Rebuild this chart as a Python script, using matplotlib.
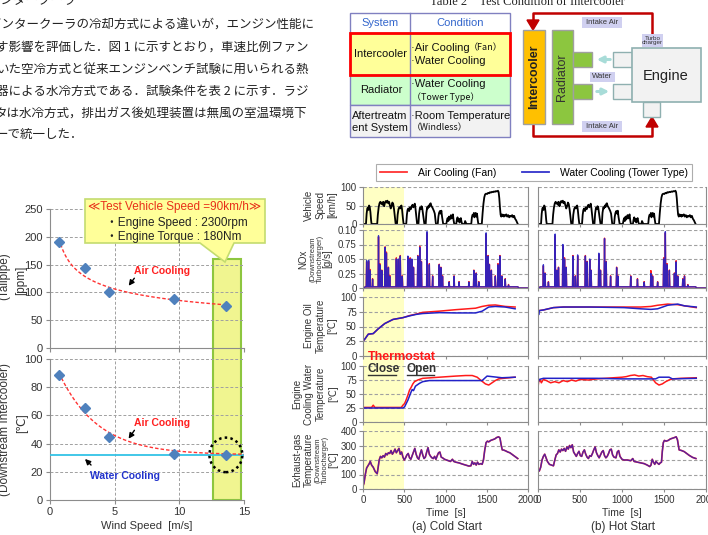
import numpy as np
import matplotlib
matplotlib.use("Agg")
import matplotlib.pyplot as plt
from matplotlib.patches import Rectangle, Polygon, Ellipse, FancyArrowPatch
from matplotlib.lines import Line2D

# ------------------------------------------------------------------ data
# Fig. left: wind speed sweep
wind_speed = [0.7, 2.7, 4.6, 9.6, 13.6]
nox_tailpipe = [190, 144, 100, 89, 76]
intake_temp_air = [89, 65.5, 45, 32.5, 32]
intake_temp_water = 32
wind_ticks = [0, 5, 10, 15]
nox_ppm_ticks = [0, 50, 100, 150, 200, 250]
intake_ticks = [0, 20, 40, 60, 80, 100]
highlight_wind = [12.6, 14.8]
highlight_top = 160

# Fig. right: transient cycle
time_ticks = [0, 500, 1000, 1500, 2000]
speed_ticks = [0, 50, 100]
nox_gs_ticks = [0, 0.025, 0.05, 0.075, 0.10]
nox_gs_labels = ["0", "0.25", "0.05", "0.75", "0.10"]
temp_ticks = [0, 25, 50, 75, 100]
exh_ticks = [0, 100, 200, 300, 400]
thermostat_open = 500

speed_t = [0, 36, 44, 52, 60, 66, 74, 82, 90, 98, 104,
           172, 180, 190, 200, 210, 220, 230, 238, 246, 256, 266, 276, 286, 296, 306, 316, 326, 336, 346, 356, 366, 376, 386, 396,
           412, 420, 430, 440, 450, 458, 466, 474, 484, 492,
           524, 532, 540, 550, 560, 570, 580, 590, 600, 610, 620, 628, 636, 646, 656,
           672, 680, 690, 700, 708, 716, 726, 736, 744,
           760, 768, 778, 786, 796, 804, 812, 820, 830, 840, 850, 860, 870, 878, 884,
           906, 914, 922, 932, 942, 950, 958, 966, 972,
           1010, 1018, 1026, 1034, 1042, 1050, 1058, 1066, 1074, 1082, 1090, 1098, 1106,
           1130, 1138, 1146, 1154, 1162, 1170, 1178, 1186, 1194, 1202,
           1230, 1238, 1246, 1254,
           1312, 1320, 1328, 1336, 1344, 1350, 1358, 1366, 1374, 1382, 1390, 1398, 1440,
           1450, 1460, 1470, 1480, 1492, 1504, 1516, 1528, 1540, 1552, 1564, 1576, 1588, 1600, 1612, 1624, 1636, 1644,
           1652, 1660, 1668, 1676, 1684, 1692, 1700, 1708, 1716, 1724, 1736, 1748, 1760, 1772, 1784, 1796, 1808, 1820,
           1832, 1844, 1856, 1866, 1876]
speed_v = [0, 0, 28, 42, 45, 38, 50, 46, 32, 10, 0,
           0, 25, 45, 56, 60, 55, 58, 52, 60, 48, 57, 62, 58, 63, 56, 60, 50, 42, 48, 58, 54, 40, 20, 0,
           0, 25, 40, 45, 42, 48, 50, 38, 15, 0,
           0, 25, 38, 42, 35, 45, 40, 48, 52, 45, 50, 55, 42, 20, 0,
           0, 28, 44, 40, 48, 46, 30, 12, 0,
           0, 30, 45, 42, 50, 46, 54, 56, 48, 45, 40, 35, 28, 12, 0,
           0, 20, 30, 35, 28, 36, 20, 8, 0,
           0, 10, 16, 8, 20, 12, 18, 24, 15, 20, 26, 10, 0,
           0, 12, 18, 8, 14, 4, 12, 16, 6, 0,
           0, 8, 4, 0,
           0, 18, 25, 22, 30, 18, 24, 30, 20, 28, 12, 0, 0,
           30, 55, 72, 80, 82, 81, 84, 83, 86, 85, 87, 86, 88, 87, 89, 88, 90, 86,
           70, 45, 25, 20, 26, 22, 25, 20, 24, 22, 26, 20, 24, 18, 22, 20, 24, 18,
           22, 14, 10, 5, 0]

nox_cold_t = [44, 68, 84, 116, 188, 204, 228, 268, 284, 308, 324, 404, 428, 452, 476, 544, 572, 592, 612,
              664, 688, 708, 776, 804, 844, 924, 944, 964, 1044, 1104, 1164, 1284, 1344, 1372, 1404,
              1492, 1516, 1532, 1556, 1604, 1636, 1660, 1684, 1724, 1764]
nox_cold_water = [0.047, 0.048, 0.030, 0.015, 0.090, 0.040, 0.030, 0.070, 0.060, 0.035, 0.020, 0.050, 0.050,
                  0.055, 0.020, 0.055, 0.050, 0.050, 0.035, 0.055, 0.070, 0.045, 0.097, 0.040, 0.020, 0.040,
                  0.035, 0.020, 0.010, 0.020, 0.010, 0.010, 0.030, 0.025, 0.010, 0.095, 0.055, 0.040, 0.030,
                  0.020, 0.040, 0.055, 0.020, 0.015, 0.005]
nox_cold_air = [0.045, 0.046, 0.032, 0.016, 0.088, 0.042, 0.031, 0.071, 0.062, 0.036, 0.022, 0.052, 0.048,
                0.056, 0.021, 0.054, 0.052, 0.049, 0.036, 0.056, 0.072, 0.046, 0.095, 0.042, 0.021, 0.041,
                0.036, 0.021, 0.011, 0.021, 0.011, 0.011, 0.031, 0.026, 0.011, 0.093, 0.056, 0.041, 0.031,
                0.021, 0.042, 0.056, 0.021, 0.016, 0.006]
nox_hot_t = [64, 84, 124, 204, 224, 244, 296, 316, 336, 416, 444, 472, 564, 584, 616, 632, 724, 744, 792, 812,
             864, 936, 952, 1104, 1184, 1264, 1344, 1364, 1424, 1496, 1516, 1536, 1564, 1624, 1644, 1664,
             1724, 1744, 1784]
nox_hot_water = [0.040, 0.025, 0.010, 0.093, 0.030, 0.035, 0.075, 0.050, 0.035, 0.055, 0.020, 0.057, 0.055,
                 0.045, 0.050, 0.030, 0.060, 0.030, 0.085, 0.045, 0.020, 0.035, 0.020, 0.020, 0.015, 0.010,
                 0.025, 0.020, 0.010, 0.050, 0.097, 0.040, 0.030, 0.025, 0.045, 0.020, 0.015, 0.020, 0.005]
nox_hot_air = [0.038, 0.026, 0.011, 0.090, 0.031, 0.036, 0.073, 0.052, 0.036, 0.056, 0.021, 0.055, 0.056,
               0.046, 0.048, 0.031, 0.058, 0.031, 0.086, 0.046, 0.021, 0.036, 0.021, 0.021, 0.016, 0.011,
               0.030, 0.021, 0.011, 0.052, 0.095, 0.042, 0.031, 0.026, 0.047, 0.021, 0.016, 0.021, 0.006]

oil_cold_t = [0, 24, 64, 124, 184, 264, 364, 484, 564, 644, 724, 924, 1124, 1364, 1444, 1524, 1604, 1724, 1844]
oil_cold_water = [25, 29, 37, 38, 46, 55, 62, 65, 68, 70.5, 72, 73.5, 73, 73, 76, 83, 84, 83, 80]
oil_cold_air = [25, 29, 37, 38, 46, 55, 62, 65, 68.5, 71, 74, 76, 78.5, 81, 84, 86, 86.5, 84, 83]
oil_hot_t = [0, 8, 16, 64, 184, 304, 624, 1024, 1224, 1344, 1424, 1544, 1664, 1744, 1884]
oil_hot_water = [75, 70, 77, 78, 82, 83, 83, 82, 80, 79, 80, 86, 88, 85, 83]
oil_hot_air = [77, 76, 77, 78, 82, 83, 83, 83, 83, 84, 86, 88, 87, 85, 82]

cool_cold_water_t = [0, 484, 504, 544, 584, 596, 612, 636, 684, 724, 804, 1444, 1504, 1564, 1684, 1844]
cool_cold_water = [25, 25, 27, 39, 54, 58, 56, 64, 69, 72, 74, 74, 82, 81, 79, 80]
cool_cold_air_t = [0, 104, 124, 144, 464, 484, 504, 524, 544, 564, 584, 604, 624, 664, 724, 924, 1124, 1244,
                   1324, 1384, 1424, 1484, 1524, 1564, 1604, 1644, 1704, 1844]
cool_cold_air = [26, 26, 30, 26, 26, 30, 33, 40, 48, 57, 62, 68, 72, 75, 78, 80, 82, 83, 83, 80, 75, 68, 66,
                 70, 74, 77, 78, 80]
cool_hot_water_t = [0, 16, 64, 300, 700, 1000, 1400, 1440, 1560, 1600, 1884]
cool_hot_water = [70, 76, 78, 78, 78, 77, 77, 80, 80, 77, 78]
cool_hot_air_t = [0, 8, 24, 40, 64, 100, 150, 200, 250, 300, 350, 400, 450, 500, 600, 700, 800, 900, 1000,
                  1050, 1100, 1150, 1200, 1250, 1300, 1350, 1400, 1440, 1480, 1520, 1560, 1600, 1700, 1884]
cool_hot_air = [62, 72, 75, 70, 76, 74, 70, 72, 70, 74, 72, 75, 73, 76, 75, 77, 78, 79, 80, 81, 83, 84, 82,
                83, 81, 80, 70, 66, 68, 72, 75, 77, 78, 79]

exh_cold_t = [0, 12, 28, 44, 60, 76, 88, 104, 124, 148, 172, 184, 196, 212, 228, 244, 260, 276, 292, 308, 324,
              340, 356, 372, 388, 404, 420, 436, 452, 468, 484, 500, 516, 532, 548, 564, 580, 596, 612, 628, 644,
              660, 676, 692, 708, 724, 740, 756, 772, 788, 804, 820, 836, 852, 868, 884, 900, 916, 932, 948, 964,
              988, 1012, 1036, 1060, 1084, 1100, 1124, 1164, 1204, 1244, 1284, 1308, 1324, 1340, 1356, 1372,
              1388, 1404, 1428, 1444, 1460, 1476, 1492, 1508, 1524, 1548, 1572, 1596, 1620, 1644, 1660, 1676,
              1688, 1708, 1732, 1756, 1780, 1804, 1828, 1852, 1876]
exh_cold = [20, 40, 100, 145, 160, 175, 190, 165, 150, 120, 105, 150, 200, 225, 215, 230, 220, 245, 235, 250, 245,
            265, 240, 255, 275, 250, 265, 280, 240, 255, 220, 200, 215, 235, 245, 215, 205, 230, 255, 280, 240,
            215, 205, 240, 270, 235, 210, 220, 255, 285, 240, 225, 215, 210, 225, 205, 230, 250, 255, 220, 215,
            205, 200, 195, 190, 205, 190, 185, 180, 172, 165, 158, 160, 190, 170, 180, 165, 185, 170, 175, 170,
            200, 270, 320, 330, 325, 335, 340, 345, 355, 360, 352, 300, 270, 268, 262, 255, 250, 240, 230, 220,
            210]
exh_hot_t = [0, 16, 32, 48, 64, 80, 96, 112, 136, 160, 184, 200, 216, 232, 248, 264, 280, 296, 312, 328, 344,
             360, 376, 392, 408, 424, 440, 456, 472, 488, 504, 520, 536, 552, 568, 584, 600, 616, 632, 648, 664,
             680, 696, 712, 728, 744, 760, 776, 792, 808, 824, 840, 856, 872, 888, 904, 928, 944, 960, 976, 1000,
             1024, 1064, 1104, 1128, 1144, 1184, 1224, 1264, 1300, 1330, 1345, 1360, 1375, 1390, 1405, 1420,
             1440, 1455, 1470, 1480, 1492, 1505, 1525, 1550, 1575, 1600, 1625, 1645, 1660, 1680, 1710, 1740,
             1770, 1800, 1840, 1880]
exh_hot = [120, 125, 150, 200, 225, 240, 215, 190, 170, 165, 160, 200, 235, 245, 270, 255, 275, 265, 280, 260,
           290, 275, 300, 285, 305, 255, 240, 225, 245, 260, 230, 225, 255, 270, 240, 220, 210, 230, 225, 245,
           270, 290, 250, 230, 215, 235, 255, 265, 230, 215, 225, 245, 270, 275, 235, 220, 215, 255, 265, 225,
           205, 200, 200, 195, 210, 190, 185, 180, 175, 165, 155, 165, 205, 185, 170, 190, 180, 170, 180, 185,
           260, 320, 335, 330, 335, 345, 350, 355, 360, 340, 270, 265, 258, 245, 232, 218, 210]

# ------------------------------------------------------------------ helpers
plt.rcParams['font.family'] = ['Liberation Sans', 'DejaVu Sans', 'Noto Sans CJK JP']
JP = ['Noto Sans CJK JP']
SERIF = ['Liberation Serif', 'DejaVu Serif']
W, H = 708, 535
fig = plt.figure(figsize=(W / 100, H / 100), dpi=100)
fig.patch.set_facecolor('white')

RED = '#ff1a1a'
BLUE = '#2222c8'
GRIDC = '#a0a0a0'
SPC = '#8c8c8c'
TXT = '#333333'


def P(x, y):
    return (x / W, 1 - y / H)


def txt(x, y, s, **kw):
    kw.setdefault('ha', 'center')
    kw.setdefault('va', 'center')
    return fig.text(x / W, 1 - y / H, s, **kw)


def rect(x0, y0, x1, y1, fc='none', ec='none', lw=1.0, z=1):
    p = Rectangle((x0 / W, 1 - y1 / H), (x1 - x0) / W, (y1 - y0) / H, transform=fig.transFigure,
                  facecolor=fc, edgecolor=ec, linewidth=lw, zorder=z)
    fig.add_artist(p)
    return p


def fline(xs, ys, **kw):
    ln = Line2D([x / W for x in xs], [1 - y / H for y in ys], transform=fig.transFigure, **kw)
    fig.add_artist(ln)
    return ln


def arrow(x0, y0, x1, y1, color='black', lw=1.0, ms=8, style='-|>', z=6):
    a = FancyArrowPatch(P(x0, y0), P(x1, y1), transform=fig.transFigure, arrowstyle=style,
                        mutation_scale=ms, color=color, lw=lw, zorder=z)
    fig.add_artist(a)


def add_ax(x0, y0, x1, y1):
    ax = fig.add_axes([x0 / W, 1 - y1 / H, (x1 - x0) / W, (y1 - y0) / H])
    ax.set_facecolor('none')
    return ax


def to_fig(ax, x, y):
    return fig.transFigure.inverted().transform(ax.transData.transform((x, y)))


# ------------------------------------------------------------------ Japanese text
jp_lines = ["インタークーラ",
            "インタークーラの冷却方式による違いが，エンジン性能に",
            "す影響を評価した．図 1 に示すとおり，車速比例ファン",
            "いた空冷方式と従来エンジンベンチ試験に用いられる熱",
            "器による水冷方式である．試験条件を表 2 に示す．ラジ",
            "タは水冷方式，排出ガス後処理装置は無風の室温環境下",
            "ーで統一した．"]
jp_x = [-11, -10, -4, -4, -4, -5, -4]
jp_y = [1, 25, 47, 69, 91, 113, 134]
for s, x, y in zip(jp_lines, jp_x, jp_y):
    txt(x, y, s, ha='left', family=JP, fontsize=9, color='#222222')

# ------------------------------------------------------------------ Table 2
txt(527, 5, "Table 2    Test Condition of Intercooler", va='baseline', family=SERIF, fontsize=9, color='#222')
TB = '#8080c0'
rect(350, 13, 510, 33, fc='white', ec=TB)
rect(350, 33, 510, 75, fc='#ffff99', ec=TB)
rect(350, 75, 510, 105, fc='#ccffcc', ec=TB)
rect(350, 105, 510, 137, fc='#f2f2f2', ec=TB)
fline([410, 410], [13, 137], color=TB, lw=1)
rect(350, 33, 510, 75, fc='none', ec='#ff0000', lw=2, z=2)
TS = 8
txt(380, 23, "System", color='#3366cc', fontsize=TS)
txt(460, 23, "Condition", color='#3366cc', fontsize=TS)
txt(380, 54, "Intercooler", fontsize=TS, color='#111')
txt(411, 48, "·Air Cooling", ha='left', fontsize=TS, color='#111')
txt(469, 48, "（Fan）", ha='left', fontsize=6.5, color='#111', family=JP)
txt(411, 61, "·Water Cooling", ha='left', fontsize=TS, color='#111')
txt(381, 90, "Radiator", fontsize=TS, color='#111')
txt(411, 84, "·Water Cooling", ha='left', fontsize=TS, color='#111')
txt(412, 97, "（Tower Type）", ha='left', fontsize=6.5, color='#111', family=JP)
txt(352, 116, "Aftertreatm", ha='left', fontsize=TS, color='#111')
txt(352, 128, "ent System", ha='left', fontsize=TS, color='#111')
txt(411, 116, "·Room Temperature", ha='left', fontsize=TS, color='#111')
txt(412, 128, "（Windless）", ha='left', fontsize=6.5, color='#111', family=JP)

# ------------------------------------------------------------------ diagram
DR = '#c00000'
fline([652, 652, 533, 533], [36, 13, 13, 22], color=DR, lw=1.8, zorder=2)
fig.add_artist(Polygon([P(527, 20), P(539, 20), P(533, 30)], closed=True, transform=fig.transFigure,
                       fc=DR, ec=DR, zorder=2))
fline([533, 533, 652, 652], [124, 136, 136, 127], color=DR, lw=1.8, zorder=2)
fig.add_artist(Polygon([P(646, 127), P(658, 127), P(652, 117)], closed=True, transform=fig.transFigure,
                       fc=DR, ec=DR, zorder=2))
rect(523, 30, 545, 124, fc='#ffc000', ec='#a0a0a0', z=3)
txt(534, 77, "Intercooler", rotation=90, fontsize=9, fontweight='bold', color='#222', zorder=4)
rect(552, 30, 573, 124, fc='#8cc63f', ec='#a0a0a0', z=3)
txt(562.5, 77, "Radiator", rotation=90, fontsize=9, color='#333', zorder=4)
rect(573, 52, 592, 67, fc='#8cc63f', ec='#a0a0a0', z=3)
rect(573, 84, 592, 99, fc='#8cc63f', ec='#a0a0a0', z=3)
rect(613, 52, 632, 67, fc='#f2f2f2', ec='#8fb0b0', z=3)
rect(613, 84, 632, 99, fc='#f2f2f2', ec='#8fb0b0', z=3)
rect(632, 48, 701, 102, fc='#f2f2f2', ec='#8fb0b0', lw=1.2, z=3)
rect(643, 102, 660, 117, fc='#f2f2f2', ec='#8fb0b0', z=3)
txt(666, 76, "Engine", fontsize=10.5, color='#222', zorder=4)
arrow(613, 59.5, 594, 59.5, color='#a8dcd8', lw=2.2, ms=9, z=4)
arrow(594, 91.5, 612, 91.5, color='#a8dcd8', lw=2.2, ms=9, z=4)
rect(582, 17, 622, 28, fc='#d0d0f0', z=3)
txt(602, 22.5, "Intake Air", fontsize=5.5, color='#333', zorder=4)
rect(582, 121, 622, 132, fc='#d0d0f0', z=3)
txt(602, 126.5, "Intake Air", fontsize=5.5, color='#333', zorder=4)
rect(590, 72, 615, 82, fc='#d0d0f0', z=3)
txt(602.5, 77, "Water", fontsize=5.5, color='#333', zorder=4)
rect(642, 34, 663, 47, fc='#d0d0f0', z=3)
txt(652.5, 40.5, "Turbo\ncharger", fontsize=4.5, color='#333', zorder=4, linespacing=0.9)

# ------------------------------------------------------------------ left charts
axA = add_ax(50, 209, 244, 348)
axB = add_ax(50, 359, 244, 500)


def style_left(ax, yticks, show_x):
    ax.set_xlim(wind_ticks[0], wind_ticks[-1])
    ax.set_ylim(yticks[0], yticks[-1])
    ax.set_xticks(wind_ticks)
    ax.set_yticks(yticks)
    ax.set_axisbelow(True)
    ax.grid(True, ls=(0, (3, 2)), color=GRIDC, lw=0.7)
    for s in ['top', 'right']:
        ax.spines[s].set_visible(False)
    for s in ['left', 'bottom']:
        ax.spines[s].set_color(SPC)
    ax.tick_params(direction='out', length=3, color=SPC, labelsize=8, labelcolor=TXT, pad=2)
    if not show_x:
        ax.tick_params(axis='x', labelbottom=False)


style_left(axA, nox_ppm_ticks, False)
style_left(axB, intake_ticks, True)
axB.set_xlabel("Wind Speed  [m/s]", fontsize=8, color=TXT, labelpad=3)

# trend lines
b, a = np.polyfit(np.log(wind_speed), np.log(nox_tailpipe), 1)
xa = np.linspace(wind_speed[0], wind_speed[-1], 100)
axA.plot(xa, np.exp(a + b * np.log(xa)), ls=(0, (2.5, 1.5)), color='#ff3333', lw=1)
axA.plot(wind_speed, nox_tailpipe, 'D', color='#4f81bd', ms=5, zorder=5)

ws = np.array(wind_speed)
dy = np.array(intake_temp_air) - intake_temp_water
best = None
for k in np.linspace(0.05, 1.0, 191):
    e = np.exp(-k * ws)
    amp = (dy * e).sum() / (e * e).sum()
    err = ((dy - amp * e) ** 2).sum()
    if best is None or err < best[0]:
        best = (err, k, amp)
xb = np.linspace(wind_speed[0], wind_ticks[-1], 120)
axB.axhline(intake_temp_water, color='#33c3e6', lw=1.3, zorder=3)
axB.plot(xb, intake_temp_water + best[2] * np.exp(-best[1] * xb), ls=(0, (2.5, 1.5)), color='#ff3333', lw=1, zorder=4)
axB.plot(wind_speed, intake_temp_air, 'D', color='#4f81bd', ms=5, zorder=5)
axB.add_patch(Ellipse((wind_speed[-1], intake_temp_air[-1]), 2.55, 24.5, fill=False, ec='black', lw=1.8,
                      ls=(0, (1, 1.3)), zorder=6, clip_on=False))

# highlight box behind both charts
p0 = to_fig(axB, highlight_wind[0], intake_ticks[0])
p1 = to_fig(axA, highlight_wind[1], highlight_top)
fig.add_artist(Rectangle(p0, p1[0] - p0[0], p1[1] - p0[1], transform=fig.transFigure,
                         fc='#f0f590', ec='#8dc63f', lw=1.5, zorder=-1))

# callout
fig.add_artist(Polygon([P(85, 199), P(265, 199), P(265, 243), P(234, 243), P(225, 262), P(200, 243), P(85, 243)],
                       closed=True, transform=fig.transFigure, fc='#ffff99', ec='#c4dc70', lw=1.2, zorder=7))
txt(175, 207, "≪Test Vehicle Speed =90km/h≫", fontsize=8.5, color='#e8301a', zorder=8,
    family=['Liberation Sans', 'DejaVu Sans'])
txt(106, 223, "・Engine Speed : 2300rpm", ha='left', fontsize=8.5, color='#222', zorder=8)
txt(106, 237, "・Engine Torque : 180Nm", ha='left', fontsize=8.5, color='#222', zorder=8)

# annotations
txt(162, 271, "Air Cooling", fontsize=7.5, fontweight='bold', color='#ff2020', zorder=8)
arrow(136, 276, 127, 288)
txt(162, 423, "Air Cooling", fontsize=7.5, fontweight='bold', color='#ff2020', zorder=8)
arrow(136, 428, 127, 441)
txt(125, 476, "Water Cooling", fontsize=7.5, fontweight='bold', color='#2233cc', zorder=8)
arrow(93, 467, 83, 457)

# y labels (partly outside the page, clipped as in the scan)
txt(4, 276, "(Tailpipe)", rotation=90, fontsize=8.5, color=TXT)
txt(21, 280, "[ppm]", rotation=90, fontsize=8.5, color=TXT)
txt(5, 430, "(Downstream Intercooler)", rotation=90, fontsize=8.5, color=TXT)
txt(22, 423, "[℃]", rotation=90, fontsize=8.5, color=TXT)

# ------------------------------------------------------------------ right panels
cols = [(363, 528), (538, 706)]
rows = [(187, 224), (230, 288), (297, 356), (366, 422), (431, 489)]
panel_ticks = [speed_ticks, nox_gs_ticks, temp_ticks, temp_ticks, exh_ticks]
panel_labels = [speed_ticks, nox_gs_labels, temp_ticks, temp_ticks, exh_ticks]
axes = [[None] * 5 for _ in range(2)]
for c, (x0, x1) in enumerate(cols):
    for r, (y0, y1) in enumerate(rows):
        ax = add_ax(x0, y0, x1, y1)
        ax.set_xlim(time_ticks[0], time_ticks[-1])
        ax.set_ylim(panel_ticks[r][0], panel_ticks[r][-1])
        ax.set_xticks(time_ticks)
        ax.set_yticks(panel_ticks[r])
        if c == 0:
            ax.set_yticklabels([str(v) for v in panel_labels[r]])
        else:
            ax.set_yticklabels([])
        ax.yaxis.grid(True, ls=(0, (3, 2)), color=GRIDC, lw=0.8)
        ax.set_axisbelow(True)
        ax.spines['top'].set_visible(False)
        for s in ['left', 'right', 'bottom']:
            ax.spines[s].set_color(SPC)
            ax.spines[s].set_linewidth(0.8)
        ax.tick_params(axis='y', length=3 if c == 0 else 0, direction='out', color=SPC, labelsize=7,
                       labelcolor=TXT, pad=1.5)
        ax.tick_params(axis='x', length=2.5, direction='out', color=SPC, labelsize=7, labelcolor=TXT,
                       labelbottom=(r == 4), pad=2)
        if r == 4:
            ax.set_xlabel("Time  [s]", fontsize=7.5, color=TXT, labelpad=2)
        axes[c][r] = ax


def spikes(times, heights, base=0.002, end=1878, half=5):
    t = [0, 30]
    v = [0, base]
    for ti, hi in zip(times, heights):
        t += [ti - half, ti, ti + half]
        v += [base, hi, base]
    t += [end, end + 8, 2000]
    v += [base, 0, 0]
    return t, v


for c in range(2):
    axes[c][0].plot(speed_t, speed_v, color='black', lw=1.3)

t, v = spikes(nox_cold_t, nox_cold_air)
axes[0][1].plot(t, v, color=RED, lw=1.0)
t, v = spikes(nox_cold_t, nox_cold_water)
axes[0][1].plot(t, v, color=BLUE, lw=1.0, alpha=0.9)
t, v = spikes(nox_hot_t, nox_hot_air)
axes[1][1].plot(t, v, color=RED, lw=1.0)
t, v = spikes(nox_hot_t, nox_hot_water)
axes[1][1].plot(t, v, color=BLUE, lw=1.0, alpha=0.9)

axes[0][2].plot(oil_cold_t, oil_cold_air, color=RED, lw=1.1)
axes[0][2].plot(oil_cold_t, oil_cold_water, color=BLUE, lw=1.1)
axes[1][2].plot(oil_hot_t, oil_hot_air, color=RED, lw=1.1)
axes[1][2].plot(oil_hot_t, oil_hot_water, color=BLUE, lw=1.1)

axes[0][3].plot(cool_cold_air_t, cool_cold_air, color=RED, lw=1.1)
axes[0][3].plot(cool_cold_water_t, cool_cold_water, color=BLUE, lw=1.1)
axes[1][3].plot(cool_hot_air_t, cool_hot_air, color=RED, lw=1.1)
axes[1][3].plot(cool_hot_water_t, cool_hot_water, color=BLUE, lw=1.1)

axes[0][4].plot(exh_cold_t, exh_cold, color=RED, lw=1.2)
axes[0][4].plot(exh_cold_t, exh_cold, color=BLUE, lw=1.0, alpha=0.75)
axes[1][4].plot(exh_hot_t, exh_hot, color=RED, lw=1.2)
axes[1][4].plot(exh_hot_t, exh_hot, color=BLUE, lw=1.0, alpha=0.75)

# cold-start thermostat-closed shading
q0 = to_fig(axes[0][4], time_ticks[0], exh_ticks[0])
q1 = to_fig(axes[0][0], thermostat_open, speed_ticks[-1])
fig.add_artist(Rectangle(q0, q1[0] - q0[0], q1[1] - q0[1], transform=fig.transFigure,
                         fc='#ffffc4', ec='none', zorder=-1))


# panel y labels
def vlab(x, y, s, fs=7):
    txt(x, y, s, rotation=90, fontsize=fs, color=TXT)


vlab(309, 205, "Vehicle"); vlab(321, 205, "Speed"); vlab(332, 205, "[km/h]")
vlab(303, 259, "NOx", 7); vlab(313, 259, "(Downstream", 5.5); vlab(320, 259, "Turbocharger)", 5.5)
vlab(327, 259, "[g/s]", 7)
vlab(309, 326, "Engine Oil"); vlab(321, 326, "Temperature"); vlab(332, 326, "[℃]")
vlab(297, 394, "Engine"); vlab(309, 394, "Cooling Water"); vlab(321, 394, "Temperature"); vlab(333, 394, "[℃]")
vlab(297, 460, "Exhaust-gas"); vlab(309, 460, "Temperature"); vlab(318, 460, "(Downstream", 5.5)
vlab(325, 460, "Turbocharger)", 5.5); vlab(333, 460, "[℃]")

# thermostat annotation
txt(368, 357, "Thermostat", ha='left', fontsize=9, fontweight='bold', color='#ff1a1a', zorder=8)
txt(368, 369, "Close", ha='left', fontsize=8.5, fontweight='bold', color='#333', zorder=8)
txt(407, 369, "Open", ha='left', fontsize=8.5, fontweight='bold', color='#333', zorder=8)
fline([368, 396], [375, 375], color='#333', lw=1, zorder=8)
fline([407, 434], [375, 375], color='#333', lw=1, zorder=8)

# legend
handles = [Line2D([], [], color='#ff3333', lw=1.3), Line2D([], [], color='#3333cc', lw=1.3)]
leg = fig.legend(handles, ["Air Cooling (Fan)", "Water Cooling (Tower Type)"], loc='center',
                 bbox_to_anchor=P(534, 172.5), ncol=2, fontsize=7.5, frameon=True, fancybox=False,
                 edgecolor='#999999', handlelength=2.6, columnspacing=2.4, borderpad=0.35, handletextpad=1.1)
leg.get_frame().set_linewidth(0.8)

txt(447, 527, "(a) Cold Start", fontsize=8.5, color=TXT)
txt(623, 527, "(b) Hot Start", fontsize=8.5, color=TXT)

fig.savefig("out.png", dpi=100)
